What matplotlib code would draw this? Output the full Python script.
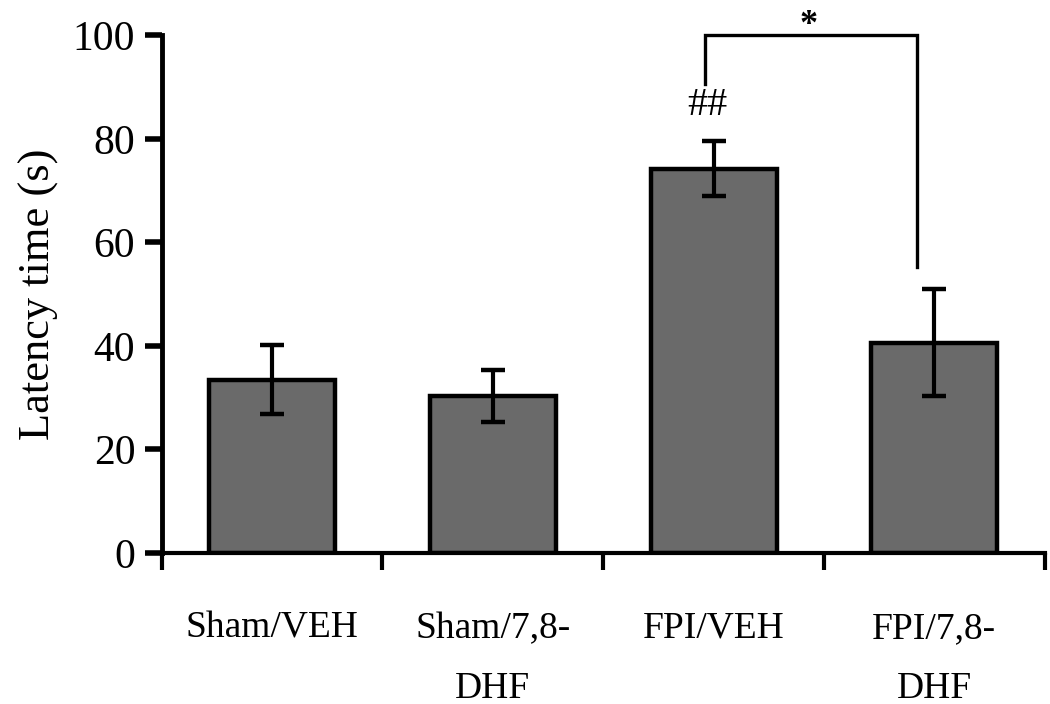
import matplotlib.pyplot as plt

groups = ["Sham/VEH", "Sham/7,8-\nDHF", "FPI/VEH", "FPI/7,8-\nDHF"]
latency = [33.5, 30.3, 74.2, 40.6]
sem = [6.6, 5.0, 5.3, 10.3]

plt.rcParams['font.family'] = ['Liberation Serif', 'DejaVu Serif']

fig = plt.figure(figsize=(10.5, 7.04), dpi=100)
ax = fig.add_axes([0.154, 0.2145, 0.841, 0.7355])

x = range(len(groups))
ax.bar(x, latency, width=0.57, color='#6a6a6a', edgecolor='black', linewidth=3.2, zorder=2)
ax.errorbar(x, latency, yerr=sem, fmt='none', ecolor='black', elinewidth=3,
            capsize=8.5, capthick=3.2, zorder=3)

ax.set_xlim(-0.5, 3.5)
ax.set_ylim(0, 100)
ax.set_yticks([0, 20, 40, 60, 80, 100])
ax.set_xticks([-0.5, 0.5, 1.5, 2.5, 3.5])
ax.set_xticklabels([])
ax.set_xticks(list(x), minor=True)
ax.set_xticklabels(groups, minor=True, fontsize=27, linespacing=1.95, va='top')
ax.tick_params(axis='x', which='minor', length=0, pad=42)
ax.tick_params(axis='x', which='major', direction='out', length=12, width=3)
ax.tick_params(axis='y', direction='out', length=12, width=4, labelsize=30, pad=7)

for s in ['top', 'right']:
    ax.spines[s].set_visible(False)
ax.spines['left'].set_linewidth(3.5)
ax.spines['bottom'].set_linewidth(3)

ax.set_ylabel("Latency time (s)", fontsize=32, labelpad=10)

# significance bracket
ax.plot([1.96, 1.96, 2.92, 2.92], [90.5, 100, 100, 55.3], color='black', lw=2.4,
        clip_on=False, solid_joinstyle='miter')
ax.text(1.97, 86.5, "##", ha='center', va='center', fontsize=29)
ax.text(2.43, 101.8, "*", ha='center', va='center', fontsize=26, fontweight='bold',
        clip_on=False)

fig.savefig("out.png", dpi=100)
